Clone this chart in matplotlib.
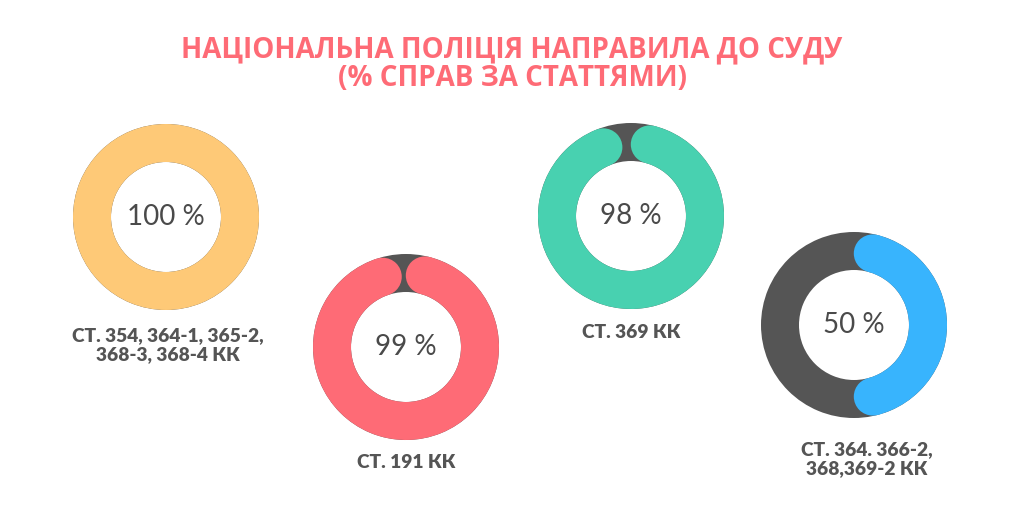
import numpy as np
import matplotlib
matplotlib.use("Agg")
import matplotlib.pyplot as plt
from matplotlib.patches import Wedge, Circle

# ---- data ----
values = [100, 99, 98, 50]
labels = ["СТ. 354, 364-1, 365-2,\n368-3, 368-4 КК",
          "СТ. 191 КК",
          "СТ. 369 КК",
          "СТ. 364. 366-2,\n368,369-2 КК"]
value_texts = ["100 %", "99 %", "98 %", "50 %"]
title = "НАЦІОНАЛЬНА ПОЛІЦІЯ НАПРАВИЛА ДО СУДУ\n(% СПРАВ ЗА СТАТТЯМИ)"
colors = ["#FEC977", "#FE6B76", "#48D1B0", "#38B4FD"]

# ---- layout (pixel coordinates, y from top) ----
centers = [(166, 217), (406, 347), (631, 216), (854, 325)]
label_pos = [(168, 345), (406, 463), (631, 333), (867, 459)]
R_OUT = 93
WIDTH = 38
BG = "#555555"
H = 512

fig = plt.figure(figsize=(10.24, 5.12), dpi=100)
ax = fig.add_axes([0, 0, 1, 1])
ax.set_xlim(0, 1024)
ax.set_ylim(0, H)
ax.axis("off")

for v, lab, vt, col, (cx, cy), (lx, ly) in zip(values, labels, value_texts,
                                                 colors, centers, label_pos):
    cyd = H - cy
    ax.add_patch(Wedge((cx, cyd), R_OUT, 0, 360, width=WIDTH, color=BG, lw=0))
    frac = v / 100.0
    if frac >= 0.999:
        ax.add_patch(Wedge((cx, cyd), R_OUT, 0, 360, width=WIDTH, color=col, lw=0))
    else:
        rmid = R_OUT - WIDTH / 2
        delta = np.degrees((WIDTH / 2) / rmid)
        t_start = 90 - delta
        t_end = 90 - 360 * frac + delta
        ax.add_patch(Wedge((cx, cyd), R_OUT, t_end, t_start, width=WIDTH,
                           color=col, lw=0))
        for t in (t_start, t_end):
            tr = np.radians(t)
            ax.add_patch(Circle((cx + rmid * np.cos(tr), cyd + rmid * np.sin(tr)),
                                WIDTH / 2, color=col, lw=0))
    ax.text(cx, cyd, vt, ha="center", va="center", fontsize=20,
            family="Lato", fontweight="normal", color="#4a4a4a")
    ax.text(lx, H - ly, lab, ha="center", va="center", fontsize=13.8,
            family="Lato", fontweight="heavy", color="#555555", linespacing=1.2)

ax.text(512, H - 64, title, ha="center", va="center", fontsize=20,
        family="Open Sans", fontweight="bold", color="#FE6B76", linespacing=1.0)

fig.savefig("out.png", dpi=100, facecolor="white")
